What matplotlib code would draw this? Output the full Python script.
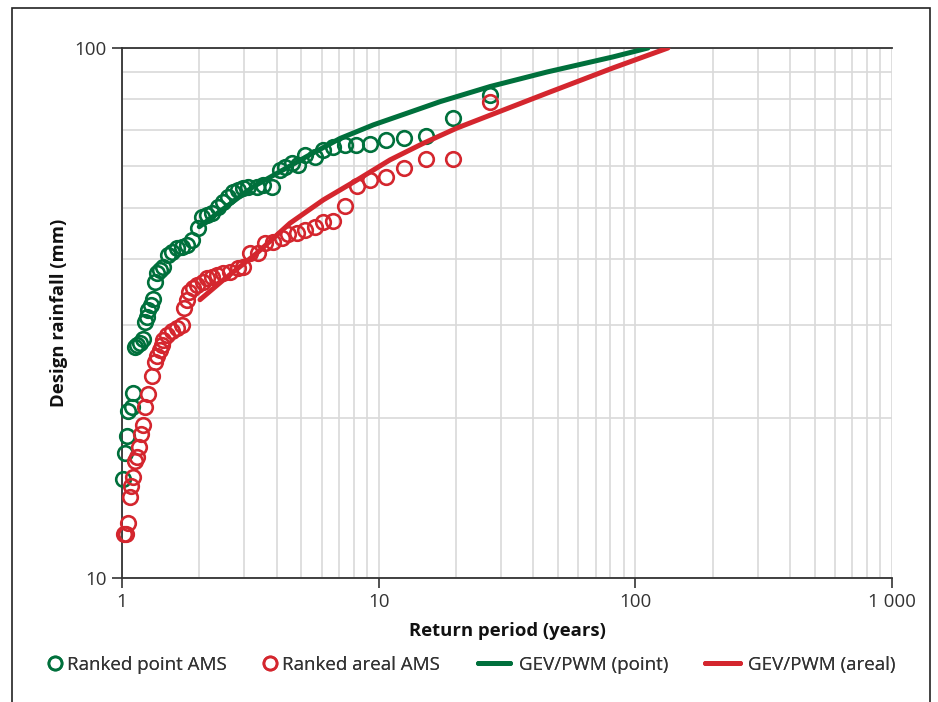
import matplotlib
matplotlib.use("Agg")
import matplotlib.pyplot as plt
from matplotlib.patches import Rectangle
from matplotlib.lines import Line2D
import numpy as np

plt.rcParams['font.family'] = ['Open Sans', 'DejaVu Sans']

# ---- data ----
point_T = [1.006, 1.027, 1.043, 1.058, 1.091, 1.107, 1.124, 1.141, 1.175, 1.204,
           1.229, 1.248, 1.266, 1.294, 1.317, 1.344, 1.365, 1.406, 1.449, 1.515,
           1.561, 1.634, 1.709, 1.788, 1.868, 1.982, 2.044, 2.137, 2.236, 2.373,
           2.483, 2.596, 2.714, 2.839, 2.968, 3.104, 3.347, 3.55, 3.83, 4.13,
           4.32, 4.58, 4.85, 5.16, 5.64, 6.09, 6.66, 7.39, 8.18, 9.25,
           10.7, 12.5, 15.3, 19.5, 27.2]
point_R = [15.35, 17.2, 18.5, 20.7, 21.0, 22.3, 27.3, 27.5, 27.7, 28.3,
           30.4, 31.1, 32.0, 32.7, 33.6, 36.2, 37.6, 38.1, 38.7, 40.7,
           41.3, 41.9, 42.2, 42.5, 43.4, 45.7, 48.0, 48.4, 48.8, 50.2,
           51.3, 52.4, 53.6, 54.0, 54.4, 54.7, 54.7, 55.1, 54.7, 58.9,
           59.7, 60.6, 60.1, 62.8, 62.4, 64.2, 65.1, 65.6, 65.6, 65.9,
           67.0, 67.5, 68.2, 73.7, 81.5]

areal_T = [1.018, 1.036, 1.058, 1.074, 1.081, 1.107, 1.124, 1.141, 1.168, 1.183,
           1.204, 1.229, 1.266, 1.312, 1.344, 1.365, 1.406, 1.428, 1.449, 1.493,
           1.561, 1.634, 1.709, 1.745, 1.788, 1.829, 1.885, 1.964, 2.062, 2.137,
           2.236, 2.338, 2.481, 2.634, 2.839, 2.968, 3.15, 3.40, 3.61, 3.89,
           4.19, 4.45, 4.79, 5.16, 5.64, 6.09, 6.66, 7.39, 8.23, 9.27,
           10.7, 12.5, 15.3, 19.5, 27.2]
areal_R = [12.1, 12.1, 12.7, 14.2, 14.9, 15.5, 16.6, 16.9, 17.7, 18.7,
           19.4, 21.0, 22.2, 24.0, 25.6, 26.2, 26.9, 27.5, 28.1, 28.7,
           29.2, 29.6, 30.0, 32.3, 33.5, 34.7, 35.2, 35.7, 36.2, 36.8,
           37.0, 37.3, 37.6, 37.8, 38.4, 38.7, 41.0, 41.0, 42.8, 43.1,
           43.8, 44.6, 44.8, 45.4, 45.9, 47.0, 47.1, 50.4, 54.8, 56.4,
           57.2, 59.4, 61.7, 61.8, 79.2]

gev_point_T = [2.0, 3.24, 5.24, 7.07, 9.53, 12.86, 17.34, 27.2, 45.3, 81.8, 112]
gev_point_R = [46.0, 54.7, 62.4, 67.5, 71.6, 75.3, 79.2, 84.6, 90.1, 96.2, 100]

gev_areal_T = [2.013, 2.481, 3.35, 4.51, 6.09, 8.21, 11.07, 14.93, 20.14, 27.2, 45.3, 81.8, 134]
gev_areal_R = [33.5, 36.5, 41.0, 46.7, 51.7, 56.3, 61.5, 66.1, 70.6, 74.7, 82.2, 91.7, 100]

x_ticks = [1, 10, 100, 1000]
x_ticklabels = ["1", "10", "100", "1 000"]
y_ticks = [10, 100]
y_ticklabels = ["10", "100"]

GREEN = "#00703c"
RED = "#d4262e"
GRID = "#d9d9d9"
TXT = "#333333"

fig = plt.figure(figsize=(9.38, 7.02), dpi=100)
ax = fig.add_axes([122/938, 1-578/702, (892-122)/938, (578-48)/702])

ax.set_xscale('log')
ax.set_yscale('log')
ax.set_xlim(1, 1000)
ax.set_ylim(10, 100)

ax.plot(point_T, point_R, linestyle='none', marker='o', ms=10.5, mfc='none',
        mec=GREEN, mew=1.9, zorder=3, clip_on=False)
ax.plot(areal_T, areal_R, linestyle='none', marker='o', ms=10.5, mfc='none',
        mec=RED, mew=1.9, zorder=3, clip_on=False)
ax.plot(gev_point_T, gev_point_R, color=GREEN, lw=3.6, solid_capstyle='round',
        solid_joinstyle='round', zorder=4)
ax.plot(gev_areal_T, gev_areal_R, color=RED, lw=3.6, solid_capstyle='round',
        solid_joinstyle='round', zorder=4)

ax.set_xticks(x_ticks)
ax.set_xticklabels(x_ticklabels)
ax.set_yticks(y_ticks)
ax.set_yticklabels(y_ticklabels)
ax.xaxis.set_minor_locator(matplotlib.ticker.LogLocator(base=10, subs=np.arange(2, 10)))
ax.yaxis.set_minor_locator(matplotlib.ticker.LogLocator(base=10, subs=np.arange(2, 10)))
ax.xaxis.set_minor_formatter(matplotlib.ticker.NullFormatter())
ax.yaxis.set_minor_formatter(matplotlib.ticker.NullFormatter())
ax.tick_params(which='minor', length=0)
ax.tick_params(which='major', length=7, width=1.2, color=TXT,
               labelsize=13.5, labelcolor=TXT, pad=4)
ax.grid(True, which='both', color=GRID, lw=1.2, zorder=0)
ax.set_axisbelow(True)

for s in ['left', 'bottom', 'top']:
    ax.spines[s].set_color(TXT)
    ax.spines[s].set_linewidth(1.3)
ax.spines['right'].set_visible(False)

ax.set_xlabel("Return period (years)", fontsize=13.3, fontweight='bold', labelpad=8,
              color='#111111')
ax.set_ylabel("Design rainfall (mm)", fontsize=13.3, fontweight='bold', labelpad=5,
              color='#111111')

# legend: four single-entry legends placed along the bottom row
ly = 1 - 665/702
entries = [
    (Line2D([], [], linestyle='none', marker='o', ms=9.5, mfc='none', mec=GREEN, mew=1.9),
     "Ranked point AMS", 48/938, 0.7, 0.3),
    (Line2D([], [], linestyle='none', marker='o', ms=9.5, mfc='none', mec=RED, mew=1.9),
     "Ranked areal AMS", 263/938, 0.7, 0.3),
    (Line2D([], [], color=GREEN, lw=3.6, solid_capstyle='round'),
     "GEV/PWM (point)", 478/938, 1.7, 0.5),
    (Line2D([], [], color=RED, lw=3.6, solid_capstyle='round'),
     "GEV/PWM (areal)", 705/938, 1.85, 0.45),
]
for h, lab, x, hl, hp in entries:
    leg = fig.legend([h], [lab], loc='center left', bbox_to_anchor=(x, ly),
                     frameon=False, fontsize=13.5, handlelength=hl, handletextpad=hp,
                     borderpad=0, borderaxespad=0, labelcolor=TXT)
    fig.add_artist(leg)

fig.patches.append(Rectangle((12/938, -0.05), (930-12)/938, 1.05-8/702,
                             transform=fig.transFigure, fill=False,
                             edgecolor='#222222', lw=1.2))

fig.savefig("out.png", dpi=100)
